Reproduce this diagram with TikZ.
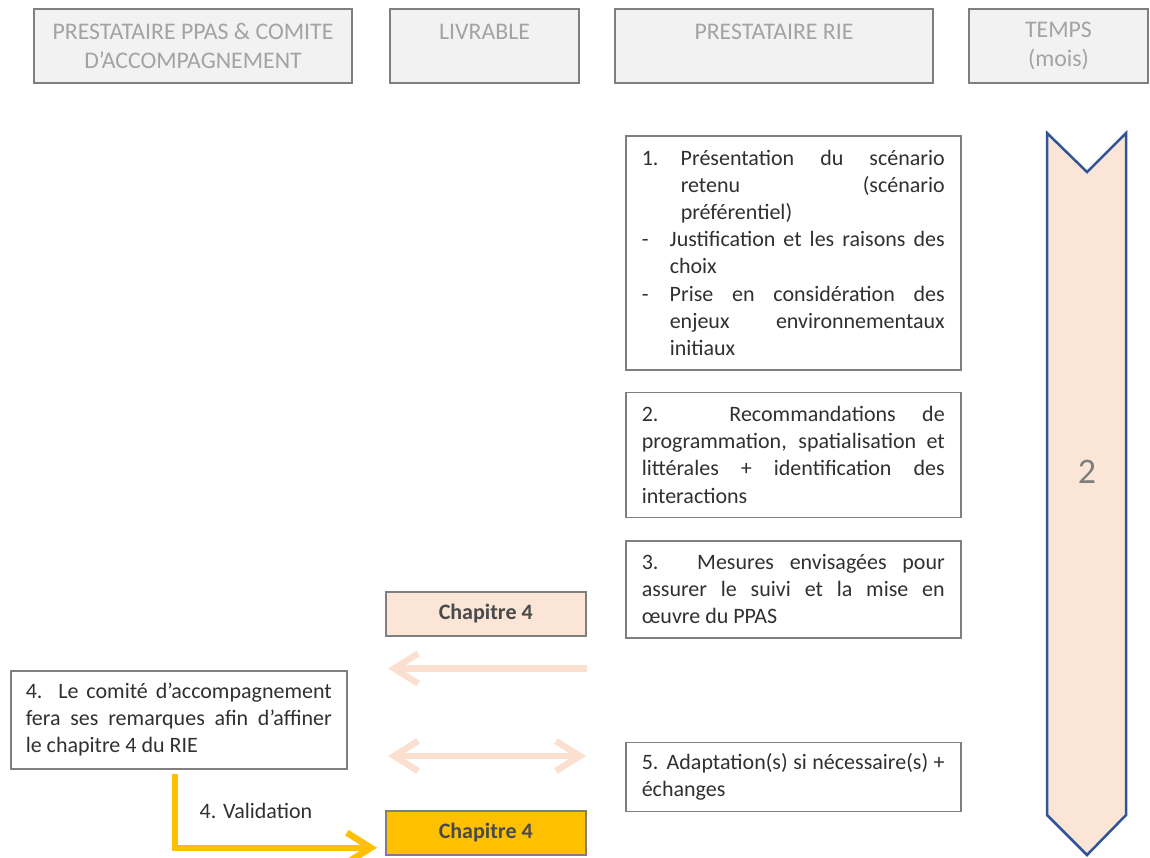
\documentclass[tikz,border=0pt]{standalone}
\usepackage{fontspec}
\setmainfont{Carlito}
\usepackage{tikz}
\usetikzlibrary{arrows.meta,positioning}

\definecolor{headfill}{HTML}{F2F2F2}
\definecolor{headtext}{HTML}{A3A3A3}
\definecolor{boxline}{HTML}{7F7F7F}
\definecolor{peach}{HTML}{FBE5D6}
\definecolor{peacharrow}{HTML}{FBE0CF}
\definecolor{gold}{HTML}{FFC000}
\definecolor{timeline}{HTML}{2F5597}
\definecolor{bodytext}{HTML}{303030}
\definecolor{chaptext}{HTML}{4A4A4A}
\setlength{\parindent}{0pt}
\hyphenpenalty=10000 \exhyphenpenalty=10000
\hbadness=10000 \tolerance=10000
\def\bodyfont{\fontsize{22}{27.2}\selectfont}

\begin{document}
\begin{tikzpicture}[x=1pt,y=-1pt,
    head node/.style={draw=boxline,fill=headfill,line width=1.5pt,text=headtext,
      font=\fontsize{23.8}{29}\selectfont,align=center,minimum height=74pt,inner sep=0pt},
    task node/.style={draw=boxline,line width=1.5pt,text=bodytext,font=\bodyfont,
      align=justify,text width=303pt,inner xsep=16pt,inner ysep=0pt,anchor=north west},
    chap node/.style={draw=boxline,line width=1.5pt,minimum width=200pt,minimum height=44pt,
      font=\fontsize{22}{26}\selectfont\bfseries,text=chaptext,anchor=north west},
    flow/.style={peacharrow,line width=6.5pt},
    valid/.style={gold,line width=6.5pt},
    >={Straight Barb[length=24pt,width=30pt]}]
  \useasboundingbox (0,0) rectangle (1150,857);

  % column heads
  \node[head node,minimum width=318pt] (ppas) at (193,46) {PRESTATAIRE PPAS \& COMITE\\D’ACCOMPAGNEMENT};
  \node[head node,minimum width=189pt] (livrable) at (484.5,46) {LIVRABLE\\\mbox{}};
  \node[head node,minimum width=318pt] (rie) at (774,46) {PRESTATAIRE RIE\\\mbox{}};
  \node[head node,minimum width=179pt] (temps) at (1058.5,46) {TEMPS\\(mois)};

  % time bar
  \draw[timeline,fill=peach,line width=2.5pt] (1047,133) -- (1087,172) -- (1126,133)
    -- (1126,815) -- (1087,855) -- (1047,815) -- cycle;
  \node[text=boxline,font=\fontsize{36}{40}\selectfont] (mois) at (1087,472) {2};

  % RIE tasks
  \node[task node,minimum height=234pt] (t1) at (625,135)
    {\hangindent=39pt\hangafter=1\makebox[39pt][l]{1.}Présentation du scénario\linebreak
     retenu (scénario\linebreak préférentiel)\par
     \hangindent=28pt\hangafter=1\makebox[28pt][l]{-}Justification et les raisons des\linebreak choix\par
     \hangindent=28pt\hangafter=1\makebox[28pt][l]{-}Prise en considération des\linebreak
     enjeux environnementaux\linebreak initiaux\par};
  \node[task node,minimum height=125pt,below=21pt of t1] (t2)
    {2. Recommandations de\linebreak programmation, spatialisation et\linebreak
     littérales + identification des\linebreak interactions};
  \node[task node,minimum height=97pt,below=22pt of t2] (t3)
    {3. Mesures envisagées pour\linebreak assurer le suivi et la mise en\linebreak œuvre du PPAS};
  \node[task node,minimum height=69pt,below=103pt of t3] (t5)
    {5. Adaptation(s) si nécessaire(s) +\linebreak échanges};

  % deliverables
  \node[chap node,fill=peach] (chap1) at (385,591) {Chapitre 4};
  \node[chap node,fill=gold] (chap2) at (385,810) {Chapitre 4};

  % comite
  \node[task node,text width=306pt,inner xsep=15pt,minimum height=98pt] (comite) at (10,670)
    {4. Le comité d’accompagnement\linebreak fera ses remarques afin d’affiner\linebreak le chapitre 4 du RIE};
  \node[text=bodytext,font=\bodyfont] (validation) at (256,811) {4. Validation};

  % exchanges
  \coordinate (echL) at (388,756);
  \coordinate (echR) at (586,756);
  \draw[flow,->] ([yshift=-32pt]chap1.south east) -- ([xshift=3pt,yshift=-32pt]chap1.south west);
  \draw[flow,<->] (echR) -- (echL);
  \draw[valid,->] ([xshift=-4pt,yshift=-4pt]comite.south) |- ([xshift=-8pt,yshift=-15pt]chap2.west);
\end{tikzpicture}
\end{document}
